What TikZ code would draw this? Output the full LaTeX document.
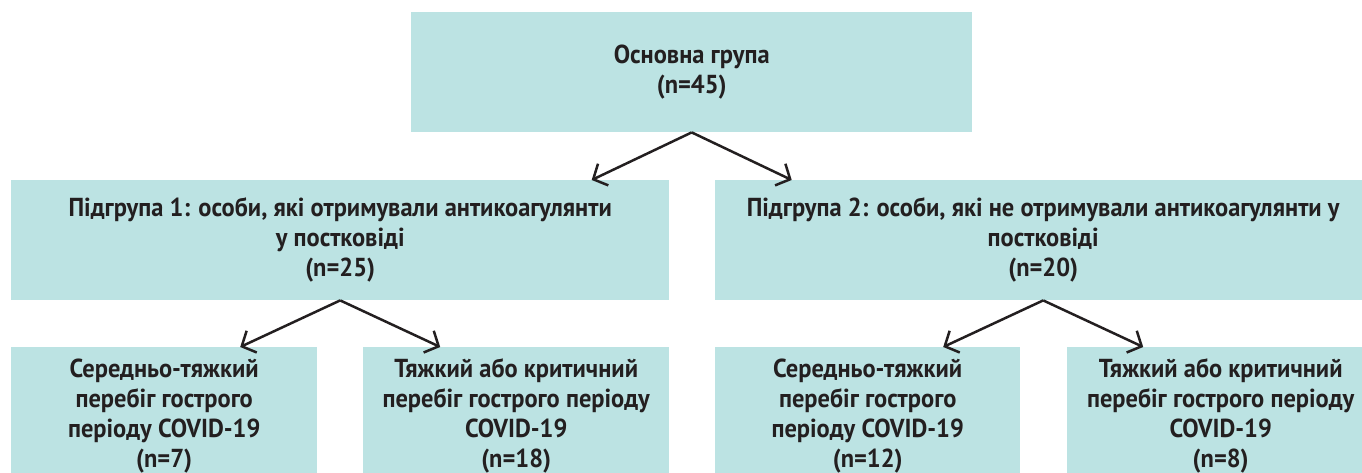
\documentclass[tikz,border=0pt]{standalone}
\usepackage{fontspec}
\setmainfont{PT Sans}[FakeStretch=0.94]
\usetikzlibrary{arrows.meta}
\definecolor{boxteal}{RGB}{188,227,227}
\definecolor{inkdark}{RGB}{35,31,32}
\tikzset{
  grp/.style={fill=boxteal, align=center, inner sep=0pt, text=inkdark,
    font=\bfseries\fontsize{26}{30}\selectfont,
    execute at begin node={\rule{0pt}{29pt}}},
  arr/.style={-{Straight Barb[length=11pt,width=24pt]}, line width=2.5pt, draw=inkdark}
}
\begin{document}
\begin{tikzpicture}[x=1pt,y=-1pt]
    % page frame
    \useasboundingbox (0,0) rectangle (1362,473);
    % whole group
    \node[grp, anchor=north west, minimum width=561pt, minimum height=120pt] (main) at (411,12) {Основна група\\(n=45)};
    % subgroups
    \node[grp, anchor=north west, minimum width=658pt, minimum height=120pt] (sub1) at (11,180) {Підгрупа 1: особи, які отримували антикоагулянти\\у постковіді\\(n=25)};
    \node[grp, anchor=north west, minimum width=656pt, minimum height=120pt] (sub2) at (715,180) {Підгрупа 2: особи, які не отримували антикоагулянти у\\постковіді\\(n=20)};
    % severity boxes
    \node[grp, anchor=north west, minimum width=306pt, minimum height=138pt] (mod1) at (11,347) {Середньо-тяжкий\\перебіг гострого\\періоду COVID-19\\(n=7)};
    \node[grp, anchor=north west, minimum width=306pt, minimum height=138pt] (sev1) at (363,347) {Тяжкий або критичний\\перебіг гострого періоду\\COVID-19\\(n=18)};
    \node[grp, anchor=north west, minimum width=305pt, minimum height=138pt] (mod2) at (715,347) {Середньо-тяжкий\\перебіг гострого\\періоду COVID-19\\(n=12)};
    \node[grp, anchor=north west, minimum width=307pt, minimum height=138pt] (sev2) at (1067,347) {Тяжкий або критичний\\перебіг гострого періоду\\COVID-19\\(n=8)};
    % arrows
    \draw[arr] (main.south) -- ([xshift=-100pt]main.south |- sub1.north);
    \draw[arr] (main.south) -- ([xshift=100pt]main.south |- sub2.north);
    \draw[arr] (sub1.south) -- ([xshift=-100pt]sub1.south |- mod1.north);
    \draw[arr] (sub1.south) -- ([xshift=100pt]sub1.south |- sev1.north);
    \draw[arr] (sub2.south) -- ([xshift=-100pt]sub2.south |- mod2.north);
    \draw[arr] (sub2.south) -- ([xshift=100pt]sub2.south |- sev2.north);
\end{tikzpicture}
\end{document}
